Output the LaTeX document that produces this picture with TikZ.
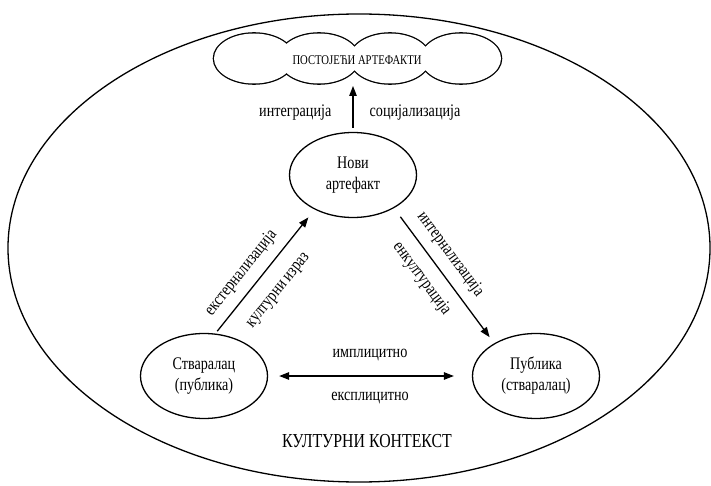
\documentclass[tikz,border=0pt]{standalone}
\usepackage{fontspec}
\setmainfont{Liberation Serif}[FakeStretch=0.8]
\usetikzlibrary{shapes.geometric,arrows.meta,positioning}

\begin{document}
\begin{tikzpicture}[x=1pt,y=-1pt]
    % --- Styles ---
    \tikzstyle{agent}=[draw, ellipse, line width=1.3pt, minimum width=127pt, minimum height=85pt, inner sep=0pt, align=center, font=\fontsize{17.7}{21}\selectfont]
    \tikzstyle{flow_arrow}=[line width=1.3pt, -{Triangle[length=10pt,width=7.5pt]}]
    \tikzstyle{two_way}=[line width=1.3pt, {Triangle[length=10pt,width=7.5pt]}-{Triangle[length=10pt,width=7.5pt]}]
    \tikzstyle{label_text}=[font=\fontsize{17.7}{21}\selectfont, inner sep=1pt, text height=12pt, text depth=4pt]
    \tikzstyle{puff}=[x radius=40pt, y radius=25pt]

    \useasboundingbox (0,0) rectangle (711,486);

    % --- 1. Cultural context ---
    \draw[line width=1.3pt] (359,248) ellipse [x radius=351pt, y radius=234pt];
    \node[font=\fontsize{19.8}{23}\selectfont, anchor=base] (kontekst) at (367,447) {КУЛТУРНИ КОНТЕКСТ};

    % --- 2. Cloud of existing artefacts ---
    % outline of the union: thick strokes, then white fill over the inner half
    \draw[line width=2.6pt] (254,58.5) ellipse [puff] (319,58.5) ellipse [puff]
        (390,58.5) ellipse [puff] (461,58.5) ellipse [puff];
    \fill[white] (254,58.5) ellipse [puff] (319,58.5) ellipse [puff]
        (390,58.5) ellipse [puff] (461,58.5) ellipse [puff];
    \node[font=\fontsize{13.3}{16}\selectfont, minimum height=48pt, outer sep=0pt] (postojeci) at (357,60) {ПОСТОЈЕЋИ АРТЕФАКТИ};

    % --- 3. Actors ---
    \node[agent] (novi) at (353,175) {Нови\\артефакт};
    \node[agent] (stvaralac) at (204,376) {Стваралац\\(публика)};
    \node[agent] (publika) at (536,376) {Публика\\(стваралац)};

    % --- 4. Flows ---
    \draw[flow_arrow, shorten <=4pt, shorten >=2pt] (novi.north) -- (novi.north |- postojeci.south)
        node[label_text, pos=0.4, left=20pt] {интеграција}
        node[label_text, pos=0.4, right=15pt] {социјализација};

    \draw[flow_arrow, shorten <=3pt, shorten >=10pt] (stvaralac.75) -- (novi.222)
        node[label_text, sloped, pos=0.4, above=8pt] {екстернализација}
        node[label_text, sloped, pos=0.46, below=12pt] {културни израз};

    \draw[flow_arrow, shorten <=10.7pt, shorten >=7.6pt] (novi.321) -- (publika.142)
        node[label_text, sloped, pos=0.42, above=8pt] {интернализација}
        node[label_text, sloped, pos=0.435, below=10pt] {енкултурација};

    \draw[two_way, shorten <=11pt, shorten >=18pt] (stvaralac.east) -- (publika.west)
        node[label_text, midway, above=13pt] {имплицитно}
        node[label_text, midway, below=11pt] {експлицитно};
\end{tikzpicture}
\end{document}
